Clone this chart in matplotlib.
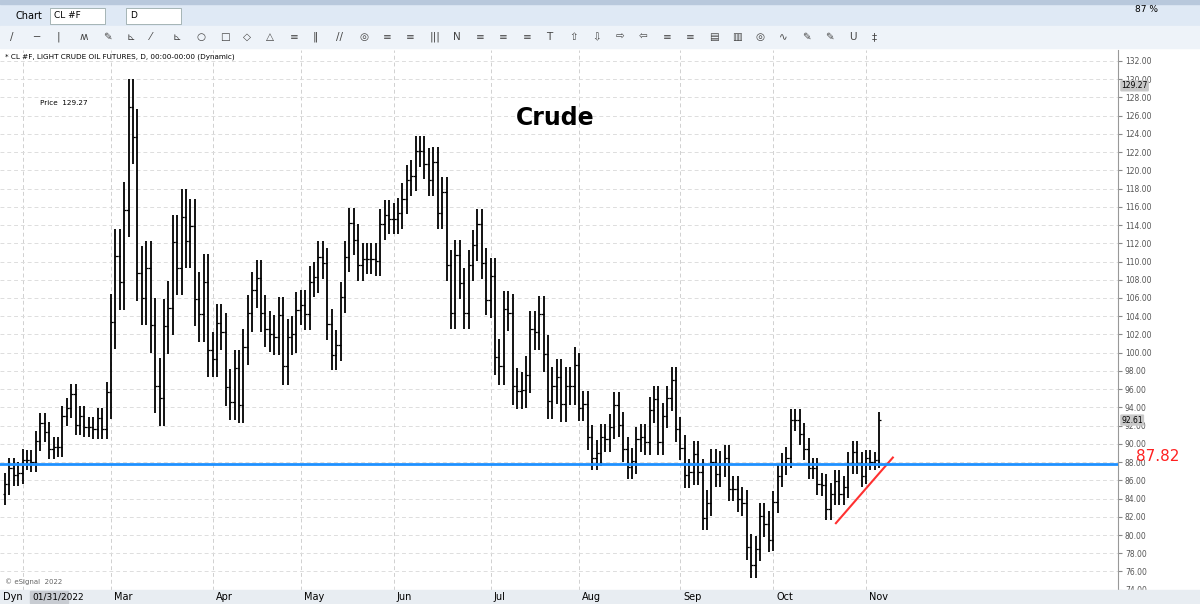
import matplotlib
matplotlib.use("Agg")
import matplotlib.pyplot as plt
from matplotlib.patches import Rectangle

closes = [85.6, 87.3, 86.6, 86.8, 88.2,
 88.2, 88.0, 90.3, 92.3, 91.3, 89.4, 89.7, 89.7, 93.1, 93.9, 95.5, 92.1, 93.1, 91.8, 91.9, 91.6, 92.8, 91.6, 95.7,
 103.4, 110.6, 107.7, 115.7, 127.0, 123.7, 108.7, 106.0, 109.3, 103.0, 96.4, 95.0, 102.9, 104.9, 112.1, 109.3, 114.9, 112.3, 113.9, 105.9, 104.2, 107.8, 100.3,
 99.3, 103.3, 102.3, 96.2, 94.6, 98.3, 94.3, 100.6, 104.3, 106.9, 108.2, 104.3, 102.6, 102.1, 101.7, 104.1, 98.5, 101.7, 102.0, 104.7,
 105.2, 104.2, 107.8, 108.3, 110.5, 109.8, 103.1, 99.8, 100.8, 106.1, 110.5, 114.2, 112.4, 109.6, 110.3, 110.3, 110.3, 110.1, 114.1, 115.1, 114.7,
 114.7, 115.3, 116.9, 118.9, 119.4, 122.1, 122.1, 120.7, 118.9, 120.9, 115.3, 117.6, 109.6, 104.3, 110.7, 107.6, 104.3, 109.6, 111.8, 114.1, 109.8, 105.8,
 108.4, 99.5, 98.5, 104.8, 104.4, 96.3, 95.8, 95.9, 97.6, 102.6, 102.3, 104.2, 99.9, 94.7, 96.4, 97.3, 94.4, 96.4, 96.3, 98.6,
 93.9, 94.4, 90.7, 88.5, 89.0, 90.8, 90.5, 91.9, 94.3, 92.1, 89.4, 87.5, 88.1, 90.5, 90.8, 90.2, 93.7, 94.9, 90.2, 93.1, 95.0, 97.0, 91.6,
 89.6, 86.6, 86.9, 88.9, 86.9, 81.9, 83.5, 88.0, 86.7, 87.8, 88.5, 85.1, 85.1, 83.9, 83.5, 78.7, 76.7, 78.5, 82.1, 81.2, 79.5,
 83.6, 86.5, 87.8, 88.5, 92.6, 92.6, 91.1, 89.4, 87.3, 87.3, 85.6, 85.5, 82.8, 84.5, 85.9, 84.5, 85.3, 87.9, 89.1, 87.9, 86.5,
 88.4, 88.0, 88.2, 92.61]
first_open = 84.5
# extra range beyond open/close, per month block (Jan, Feb, Mar, ... Nov)
month_sizes = [5, 19, 23, 20, 21, 22, 20, 23, 21, 21, 4]
month_pads = [1.2, 1.1, 3.0, 2.0, 1.7, 1.7, 2.0, 1.4, 1.4, 1.2, 0.9]
month_labels = ["Mar", "Apr", "May", "Jun", "Jul", "Aug", "Sep", "Oct", "Nov"]
month_idx = [24, 47, 67, 88, 110, 130, 153, 174, 195]
start_idx = 4
support = 87.82
peak_price = 129.27
trend_x = [188.2, 201.1]
trend_y = [81.3, 88.5]

W, H = 1200, 604
fig = plt.figure(figsize=(12, 6.04), dpi=100)
fig.patch.set_facecolor("white")

def fx(px): return px / W
def fy(py): return 1 - py / H

# toolbars
fig.patches.append(Rectangle((0, fy(26)), 1, 26 / H, transform=fig.transFigure, color="#dfe9f5", zorder=0))
fig.patches.append(Rectangle((0, fy(48)), 1, 22 / H, transform=fig.transFigure, color="#eef3f9", zorder=0))
fig.patches.append(Rectangle((0, fy(4)), 1, 4 / H, transform=fig.transFigure, color="#b8c8dc", zorder=0))
fig.text(fx(16), fy(16), "Chart", fontsize=7, va="center")
fig.patches.append(Rectangle((fx(50), fy(24)), 55 / W, 16 / H, transform=fig.transFigure, fc="white", ec="#9aa", lw=0.6))
fig.text(fx(54), fy(16), "CL #F", fontsize=6.5, va="center")
fig.patches.append(Rectangle((fx(126), fy(24)), 55 / W, 16 / H, transform=fig.transFigure, fc="white", ec="#9aa", lw=0.6))
fig.text(fx(130), fy(16), "D", fontsize=6.5, va="center")
fig.text(fx(1135), fy(10), "87 %", fontsize=6.5, va="center")
icons = "/ ─ | ʍ ✎ ⊾ ⁄ ⊾ ○ □ ◇ △ ≡ ‖ // ◎ ≡ ≡ ||| N ≡ ≡ ≡ T ⇧ ⇩ ⇨ ⇦ ≡ ≡ ▤ ▥ ◎ ∿ ✎ ✎ U ‡".split()
for i, c in enumerate(icons):
    fig.text(fx(10 + i * 23.3), fy(37), c, fontsize=7.5, va="center", color="#444")

# bottom strip
fig.patches.append(Rectangle((0, 0), 1, 14 / H, transform=fig.transFigure, color="#e8edf2", zorder=0))
fig.text(fx(3), fy(597), "Dyn", fontsize=7, va="center")
fig.patches.append(Rectangle((fx(30), fy(603)), 38 / W, 12 / H, transform=fig.transFigure, color="#c8ccd2"))
fig.text(fx(32), fy(597), "01/31/2022", fontsize=6.5, va="center")

ax = fig.add_axes([0, fy(590), fx(1118), (590 - 50) / H])
spx = 4.415
ax.set_xlim(-5 / spx, (1118 - 5) / spx)
ax.set_ylim(73.97, 133.2)

for xi in [start_idx] + month_idx:
    ax.axvline(xi, color="#d0d0d0", ls=(0, (4, 3)), lw=0.7, zorder=0)
ticks = list(range(74, 133, 2))
for t in ticks:
    ax.axhline(t, color="#dddddd", ls=(0, (4, 3)), lw=0.7, zorder=0)

pads = []
for n, p in zip(month_sizes, month_pads):
    pads += [p] * n
opens = [first_open] + closes[:-1]
for i, c in enumerate(closes):
    o = opens[i]
    hi = max(o, c) + pads[i]
    lo = min(o, c) - pads[i]
    ax.vlines(i, lo, hi, color="black", lw=1.3)
    ax.hlines(o, i - 0.5, i, color="black", lw=0.9)
    ax.hlines(c, i, i + 0.5, color="black", lw=0.9)

ax.axhline(support, color="#1e90ff", lw=2, zorder=3)
ax.plot(trend_x, trend_y, color="#ff3030", lw=1.5)

ax.yaxis.tick_right()
ax.set_yticks(ticks)
ax.set_yticklabels([f"{t:.2f}" for t in ticks], fontsize=5.5, color="#555")
ax.tick_params(axis="y", length=3, pad=2, colors="#888", labelcolor="#555")
ax.set_xticks([])
for s in ["top", "left", "bottom"]:
    ax.spines[s].set_visible(False)
ax.spines["right"].set_color("#999")

for val in [peak_price, closes[-1]]:
    ax.text(1.003, val, f"{val:.2f}", transform=ax.get_yaxis_transform(), fontsize=5.5,
            va="center", ha="left", bbox=dict(boxstyle="round,pad=0.15", fc="#c8c8c8", ec="none"))
ax.text(1.016, support + 0.8, f"{support:.2f}", transform=ax.get_yaxis_transform(),
        fontsize=11, color="#ff2020", va="center", ha="left", clip_on=False)

for lab, xi in zip(month_labels, month_idx):
    xp = 5 + xi * spx + 3
    fig.text(fx(xp), fy(597), lab, fontsize=7, va="center", ha="left")

fig.text(fx(5), fy(57), "* CL #F, LIGHT CRUDE OIL FUTURES, D, 00:00-00:00 (Dynamic)", fontsize=5.2, va="center")
fig.text(fx(40), fy(103), "Price  129.27", fontsize=5.2, va="center")
fig.text(fx(555), fy(118), "Crude", fontsize=17, weight="bold", ha="center", va="center")
fig.text(fx(5), fy(582), "© eSignal  2022", fontsize=5, color="#666", va="center")

fig.savefig("out.png", dpi=100)
